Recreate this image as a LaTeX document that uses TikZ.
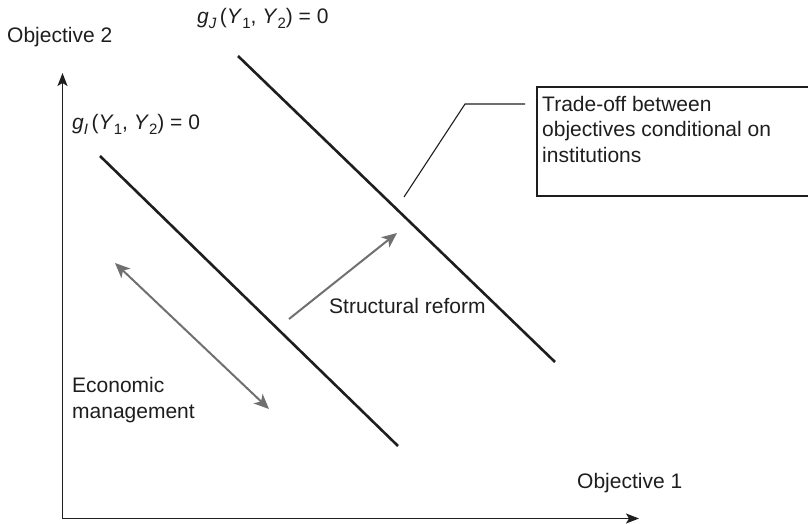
\documentclass[tikz,border=0pt]{standalone}
\usepackage{fontspec}
\setmainfont{Liberation Sans}
\usetikzlibrary{arrows.meta}
\definecolor{inkc}{HTML}{1E1E1E}
\definecolor{greyarrow}{HTML}{707070}
\newcommand{\lsub}[1]{\raisebox{-5pt}{\fontsize{15}{15}\selectfont #1}}
\begin{document}
\begin{tikzpicture}[x=1pt,y=-1pt,
  headtip/.tip={Stealth[length=15pt,width=13pt,inset=4pt]},
  axistip/.tip={Stealth[length=13pt,width=10pt,inset=3pt]},
  lbl/.style={inner sep=0pt,text=inkc,font=\fontsize{21}{25.5}\selectfont},
  axisline/.style={draw=inkc,line width=1.6pt,-axistip},
  frontier/.style={draw=inkc,line width=2.6pt},
  movearrow/.style={draw=greyarrow,line width=2pt},
  callout/.style={draw=inkc,line width=1.1pt},
  frame/.style={draw=inkc,line width=1.4pt}]
\useasboundingbox (0,0) rectangle (808,524);
% axes
\coordinate (origin) at (62.5,518.5);
\coordinate (ytip) at (62.5,73);
\coordinate (xtip) at (639,518.5);
\draw[axisline] (origin) -- (ytip);
\draw[axisline] (origin) -- (xtip);
% frontiers
\coordinate (jstart) at (238,56);
\coordinate (jend) at (555,362);
\coordinate (istart) at (100,156);
\coordinate (iend) at (398,446);
\draw[frontier] (jstart) -- (jend);
\draw[frontier] (istart) -- (iend);
% movement arrows
\coordinate (ema) at (115,263);
\coordinate (emb) at (269,409);
\draw[movearrow,headtip-headtip] (ema) -- (emb);
\coordinate (sra) at (289,319);
\coordinate (srb) at (397,233);
\draw[movearrow,-headtip] (sra) -- (srb);
% labels
\node[lbl,anchor=base west] (obj2) at (7,43) {Objective 2};
\node[lbl,anchor=base west] (obj1) at (577,488) {Objective 1};
\node[lbl,anchor=base west] (gj) at (197,24) {\textit{g}\lsub{\textit{J}}\,(\textit{Y}\lsub{1}, \textit{Y}\lsub{2}) = 0};
\node[lbl,anchor=base west] (gi) at (72,130) {\textit{g}\lsub{\textit{I}}\,(\textit{Y}\lsub{1}, \textit{Y}\lsub{2}) = 0};
\node[lbl,anchor=base west] (srl) at (329,313) {Structural reform};
\node[lbl,anchor=base west,align=left] (eml) at (72,418) {Economic\\management};
% callout box
\node[lbl,anchor=base west,align=left] (tbox) at (542,162) {Trade-off between\\objectives conditional on\\institutions};
\draw[frame] (809,87) -- (537,87) -- (537,196) -- (809,196);
\coordinate (cla) at (404,197);
\coordinate (clb) at (465,104);
\coordinate (clc) at (525,104);
\draw[callout] (cla) -- (clb) -- (clc);
\end{tikzpicture}
\end{document}
